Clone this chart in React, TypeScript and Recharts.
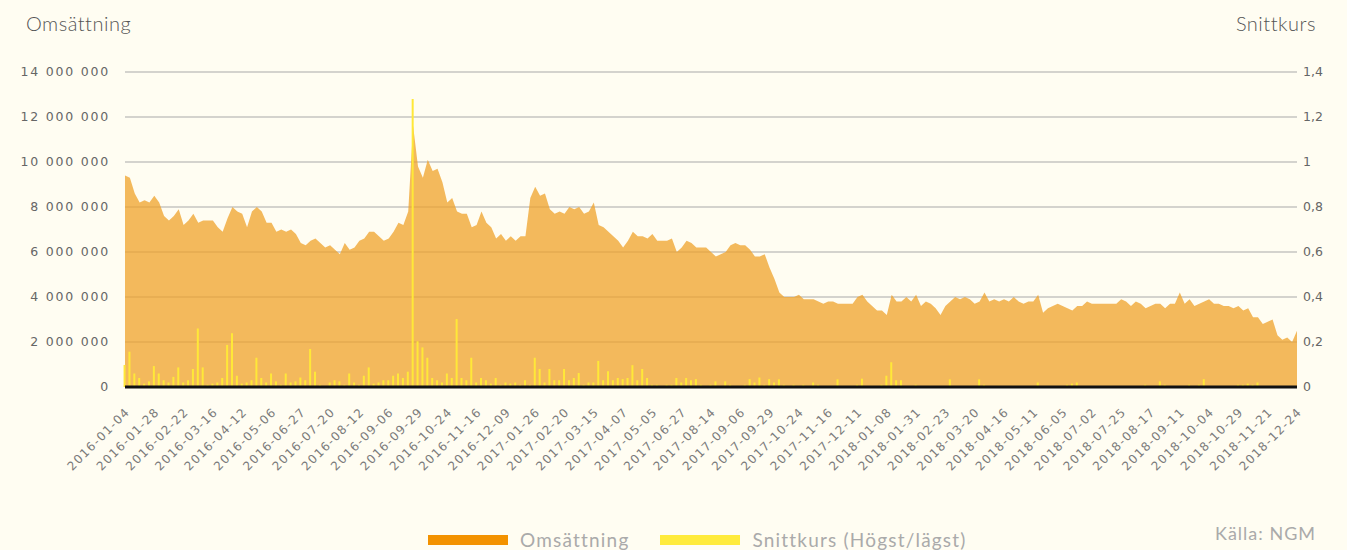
import { Area, Bar, CartesianGrid, ComposedChart, XAxis, YAxis } from 'recharts'

// x tick labels, one every 6 data points
const DATE_LABELS = [
  '2016-01-04', '2016-01-28', '2016-02-22', '2016-03-16', '2016-04-12', '2016-05-06', '2016-06-27',
  '2016-07-20', '2016-08-12', '2016-09-06', '2016-09-29', '2016-10-24', '2016-11-16', '2016-12-09',
  '2017-01-26', '2017-02-20', '2017-03-15', '2017-04-07', '2017-05-05', '2017-06-27', '2017-08-14',
  '2017-09-06', '2017-09-29', '2017-10-24', '2017-11-16', '2017-12-11', '2018-01-08', '2018-01-31',
  '2018-02-23', '2018-03-20', '2018-04-16', '2018-05-11', '2018-06-05', '2018-07-02', '2018-07-25',
  '2018-08-17', '2018-09-11', '2018-10-04', '2018-10-29', '2018-11-21', '2018-12-24',
]
const STEP = 6

// Snittkurs (kr)
const PRICE = [
  0.94, 0.93, 0.86, 0.82, 0.83, 0.82, 0.85, 0.82, 0.76, 0.74,
  0.76, 0.79, 0.72, 0.74, 0.77, 0.73, 0.74, 0.74, 0.74, 0.71,
  0.69, 0.75, 0.8, 0.78, 0.77, 0.71, 0.78, 0.8, 0.78, 0.73,
  0.73, 0.69, 0.7, 0.69, 0.7, 0.68, 0.64, 0.63, 0.65, 0.66,
  0.64, 0.62, 0.63, 0.61, 0.59, 0.64, 0.61, 0.62, 0.65, 0.66,
  0.69, 0.69, 0.67, 0.65, 0.66, 0.69, 0.73, 0.72, 0.78, 1.16,
  0.98, 0.93, 1.01, 0.96, 0.97, 0.91, 0.82, 0.84, 0.78, 0.77,
  0.77, 0.71, 0.72, 0.78, 0.73, 0.71, 0.66, 0.68, 0.65, 0.67,
  0.65, 0.67, 0.67, 0.84, 0.89, 0.85, 0.86, 0.79, 0.77, 0.78,
  0.77, 0.8, 0.79, 0.8, 0.77, 0.78, 0.82, 0.72, 0.71, 0.69,
  0.67, 0.65, 0.62, 0.65, 0.69, 0.67, 0.67, 0.66, 0.68, 0.65,
  0.65, 0.65, 0.66, 0.6, 0.62, 0.65, 0.64, 0.62, 0.62, 0.62,
  0.6, 0.58, 0.59, 0.6, 0.63, 0.64, 0.63, 0.63, 0.61, 0.58,
  0.58, 0.59, 0.53, 0.48, 0.42, 0.4, 0.4, 0.4, 0.41, 0.39,
  0.39, 0.39, 0.38, 0.37, 0.38, 0.38, 0.37, 0.37, 0.37, 0.37,
  0.4, 0.41, 0.38, 0.36, 0.34, 0.34, 0.32, 0.41, 0.38, 0.38,
  0.4, 0.38, 0.41, 0.36, 0.38, 0.37, 0.35, 0.32, 0.36, 0.38,
  0.4, 0.39, 0.4, 0.39, 0.37, 0.38, 0.42, 0.38, 0.39, 0.38,
  0.39, 0.38, 0.4, 0.38, 0.37, 0.38, 0.38, 0.41, 0.33, 0.35,
  0.36, 0.37, 0.36, 0.35, 0.34, 0.36, 0.36, 0.38, 0.37, 0.37,
  0.37, 0.37, 0.37, 0.37, 0.39, 0.38, 0.36, 0.38, 0.37, 0.35,
  0.36, 0.37, 0.37, 0.35, 0.37, 0.37, 0.42, 0.37, 0.39, 0.36,
  0.37, 0.38, 0.39, 0.37, 0.37, 0.36, 0.36, 0.35, 0.36, 0.34,
  0.35, 0.31, 0.31, 0.28, 0.29, 0.3, 0.23, 0.21, 0.22, 0.2, 0.25,
]

// Omsättning, miljoner kr
const VOLUME_M = [
  0.98, 1.57, 0.6, 0.4, 0.15, 0.25, 0.93, 0.6, 0.3, 0.2,
  0.45, 0.87, 0.2, 0.3, 0.8, 2.6, 0.87, 0.1, 0.15, 0.2,
  0.4, 1.87, 2.39, 0.5, 0.15, 0.2, 0.3, 1.3, 0.4, 0.2,
  0.6, 0.25, 0.1, 0.6, 0.2, 0.25, 0.42, 0.3, 1.69, 0.68,
  0.1, 0.05, 0.2, 0.3, 0.25, 0.1, 0.6, 0.2, 0.1, 0.5,
  0.87, 0.15, 0.2, 0.3, 0.3, 0.5, 0.6, 0.4, 0.68, 12.8,
  2.03, 1.76, 1.3, 0.4, 0.3, 0.2, 0.6, 0.4, 3.02, 0.4,
  0.3, 1.3, 0.2, 0.4, 0.3, 0.15, 0.4, 0.1, 0.2, 0.15,
  0.2, 0.1, 0.3, 0.1, 1.3, 0.8, 0.2, 0.8, 0.3, 0.3,
  0.8, 0.3, 0.4, 0.62, 0.1, 0.2, 0.2, 1.16, 0.3, 0.7,
  0.3, 0.4, 0.35, 0.4, 0.97, 0.3, 0.8, 0.4, 0.1, 0.1,
  0.05, 0.1, 0.1, 0.4, 0.2, 0.4, 0.3, 0.35, 0.1, 0.05,
  0.1, 0.25, 0.05, 0.25, 0.1, 0.05, 0.05, 0.1, 0.35, 0.2,
  0.42, 0.1, 0.35, 0.2, 0.34, 0.1, 0.05, 0.1, 0.05, 0.1,
  0.05, 0.2, 0.1, 0, 0.05, 0.05, 0.34, 0.05, 0, 0.05,
  0.1, 0.37, 0, 0.05, 0, 0.1, 0.5, 1.1, 0.3, 0.3,
  0, 0.05, 0.1, 0, 0, 0.05, 0, 0, 0, 0.34,
  0, 0, 0, 0.05, 0, 0.34, 0.1, 0, 0, 0.05,
  0, 0, 0.05, 0, 0, 0, 0, 0.2, 0, 0,
  0, 0, 0, 0.1, 0.15, 0.2, 0, 0, 0, 0,
  0, 0, 0.05, 0, 0, 0, 0, 0, 0, 0.1,
  0, 0, 0.25, 0.1, 0, 0, 0, 0, 0.1, 0,
  0.1, 0.35, 0, 0, 0, 0, 0, 0, 0.1, 0.1,
  0.15, 0.1, 0.2, 0, 0, 0, 0, 0, 0, 0, 0,
]

const LEFT_TICKS = [0, 2000000, 4000000, 6000000, 8000000, 10000000, 12000000, 14000000]
const RIGHT_TICKS = [0, 0.2, 0.4, 0.6, 0.8, 1, 1.2, 1.4]

const data = PRICE.map((p, i) => ({ i, price: p, volume: VOLUME_M[i] * 1000000 }))
const xTicks = DATE_LABELS.map((_, k) => k * STEP)

const FONT = 'Lato, "Open Sans", sans-serif'
const TICK_FONT = '"DejaVu Sans", Lato, sans-serif'
const BG = '#fffdf2'

const fmtMillions = (v: number) => String(v).replace(/\B(?=(\d{3})+(?!\d))/g, ' ')
const fmtKurs = (v: number) => String(v).replace('.', ',')

function LeftTick({ x, y, payload }: any) {
  return (
    <text
      x={x}
      y={y}
      dy={4}
      textAnchor="end"
      fill="#666"
      fontSize={12.5}
      fontFamily={TICK_FONT}
      style={{ letterSpacing: '1.8px' }}
    >
      {fmtMillions(payload.value)}
    </text>
  )
}

function RightTick({ x, y, payload }: any) {
  return (
    <text x={x} y={y} dy={4} textAnchor="start" fill="#666" fontSize={12.5} fontFamily={TICK_FONT}>
      {fmtKurs(payload.value)}
    </text>
  )
}

function DateTick({ x, y, payload }: any) {
  return (
    <g transform={`translate(${x},${y})`}>
      <text
        x={0}
        y={0}
        dy={8}
        transform="rotate(-45)"
        textAnchor="end"
        fill="#7a7a7a"
        fontSize={12}
        fontFamily={TICK_FONT}
        style={{ letterSpacing: '1.3px' }}
      >
        {DATE_LABELS[Math.round(payload.value / STEP)]}
      </text>
    </g>
  )
}

export default function App() {
  return (
    <div
      style={{
        position: 'absolute',
        left: 0,
        top: 0,
        width: 1347,
        height: 550,
        background: BG,
        fontFamily: FONT,
        overflow: 'hidden',
      }}
    >
      <div
        style={{ position: 'absolute', left: 26, top: 11, fontSize: 20, fontWeight: 300, color: '#555', letterSpacing: 0.5 }}
      >
        Omsättning
      </div>
      <div
        style={{ position: 'absolute', right: 31, top: 11, fontSize: 20, fontWeight: 300, color: '#555', letterSpacing: 0.5 }}
      >
        Snittkurs
      </div>

      <ComposedChart width={1347} height={550} data={data} margin={{ top: 72, right: 0, bottom: 63, left: 0 }}>
        <CartesianGrid vertical={false} stroke="#a9a9a9" yAxisId="left" />
        <XAxis
          dataKey="i"
          type="number"
          domain={[0, 240]}
          ticks={xTicks}
          interval={0}
          axisLine={{ stroke: '#111', strokeWidth: 3 }}
          tickLine={false}
          tickSize={0}
          tickMargin={20}
          height={100}
          tick={<DateTick />}
        />
        <YAxis
          yAxisId="left"
          orientation="left"
          width={125}
          domain={[0, 14000000]}
          ticks={LEFT_TICKS}
          axisLine={false}
          tickLine={false}
          tickSize={0}
          tickMargin={15}
          tick={<LeftTick />}
        />
        <YAxis
          yAxisId="right"
          orientation="right"
          width={50}
          domain={[0, 1.4]}
          ticks={RIGHT_TICKS}
          axisLine={false}
          tickLine={false}
          tickSize={0}
          tickMargin={6}
          tick={<RightTick />}
        />
        <Area
          yAxisId="right"
          type="linear"
          dataKey="price"
          stroke="none"
          fill="#efa22a"
          fillOpacity={0.75}
          isAnimationActive={false}
        />
        <Bar yAxisId="left" dataKey="volume" fill="#ffe838" barSize={2} isAnimationActive={false} />
      </ComposedChart>

      <div
        style={{
          position: 'absolute',
          left: 428,
          top: 528,
          display: 'flex',
          alignItems: 'center',
          fontSize: 19,
          color: '#aaa',
          letterSpacing: 1.2,
        }}
      >
        <span style={{ display: 'inline-block', width: 80, height: 10, background: '#f39200', marginRight: 12 }} />
        <span style={{ marginRight: 31 }}>Omsättning</span>
        <span style={{ display: 'inline-block', width: 80, height: 10, background: '#ffeb3b', marginRight: 12 }} />
        <span>Snittkurs (Högst/lägst)</span>
      </div>
      <div style={{ position: 'absolute', right: 31, top: 522, fontSize: 18, color: '#aaa', letterSpacing: 1 }}>
        Källa: NGM
      </div>
    </div>
  )
}
